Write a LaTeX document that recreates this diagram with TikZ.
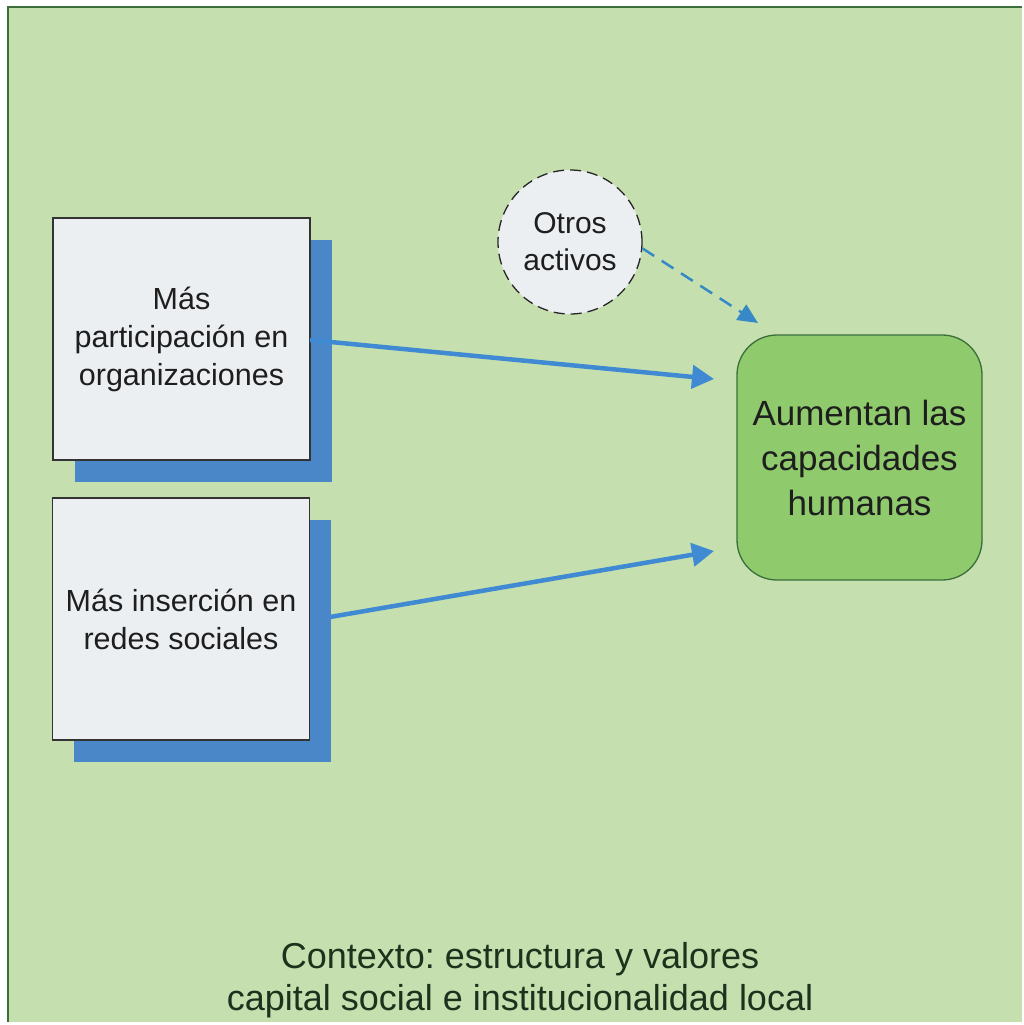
\documentclass[tikz,border=0pt]{standalone}
\usepackage{fontspec}
\setmainfont{Liberation Sans}
\usetikzlibrary{arrows.meta,positioning,calc}
\definecolor{bgg}{HTML}{C5DFAE}
\definecolor{frameg}{HTML}{3C6E3C}
\definecolor{boxf}{HTML}{ECEFF2}
\definecolor{shad}{HTML}{4A87C8}
\definecolor{arr}{HTML}{3F8AD2}
\definecolor{greenbox}{HTML}{8FCA6C}
\definecolor{txt}{HTML}{1E1E1E}
\definecolor{ctx}{HTML}{1C321C}
\tikzset{
  sqbox/.style={draw=black!80, line width=1.2pt, fill=boxf, minimum width=257pt, minimum height=242pt, inner sep=0pt, align=center, text=txt, font=\fontsize{30.5}{38}\selectfont},
  shadowbox/.style={fill=shad, draw=none, minimum width=257pt, minimum height=242pt, inner sep=0pt},
  flow/.style={draw=arr, line width=4.5pt, -{Triangle[length=22pt,width=23pt]}},
  dflow/.style={draw=arr!85!teal, line width=2.5pt, dash pattern=on 14pt off 9pt, -{Triangle[length=20pt,width=18pt]}},
}
\begin{document}
\frenchspacing
\begin{tikzpicture}[x=1pt,y=-1pt]
\useasboundingbox (0,0) rectangle (1024,1025);
\fill[white] (0,0) rectangle (1024,1025);
\fill[bgg] (8,7) rectangle (1022,1022);
\draw[frameg, line width=1.5pt] (8,1022) -- (8,7) -- (1022,7);
% shadows
\node[shadowbox] (s1) at (203.5,361) {};
\node[shadowbox] (s2) at (202.5,641) {};
% boxes
\node[sqbox] (b1) at (181.5,339) {Más\\participación en\\organizaciones};
\node[sqbox] (b2) at (181,619) {Más inserción en\\redes sociales};
% circle
\node[circle, draw=black!85, dash pattern=on 11pt off 6pt, line width=1.3pt, fill=boxf, minimum size=144pt, inner sep=0pt, align=center, text=txt, font=\fontsize{30}{37}\selectfont] (c) at (570,242) {Otros\\activos};
% green box
\node[draw=frameg, line width=1.3pt, fill=greenbox, rounded corners=40pt, minimum width=245pt, minimum height=245pt, inner sep=0pt, align=center, text=txt, font=\fontsize{35}{45}\selectfont] (g) at (859.5,457.5) {Aumentan las\\capacidades\\humanas};
% arrow ends
\coordinate (e1) at (714,379);
\coordinate (e2) at (714,551);
\coordinate (e3) at (758,323);
\coordinate (o1) at (310,340);
\coordinate (o2) at (330,617);
\draw[flow] (o1) -- (e1);
\draw[flow] (o2) -- (e2);
\draw[dflow] (c.-5) -- (e3);
% context text
\node[align=center, text=ctx, font=\fontsize{36}{42}\selectfont] (ctxt) at (520,980) {Contexto: estructura y valores\\capital social e institucionalidad local};
\end{tikzpicture}
\end{document}
